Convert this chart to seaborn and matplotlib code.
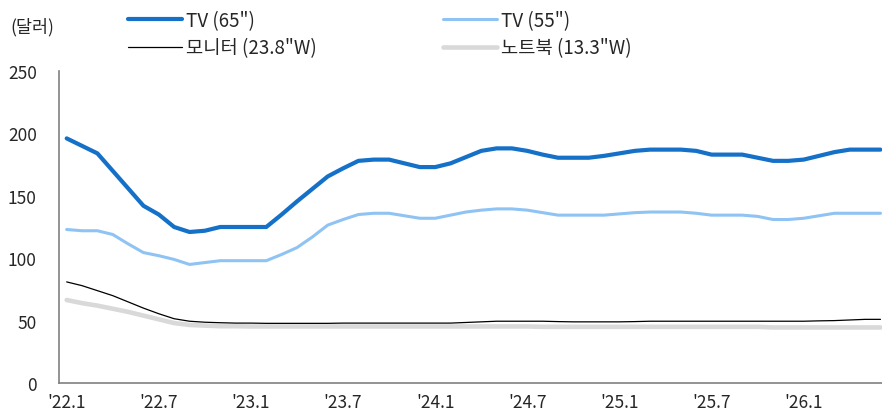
import numpy as np
import pandas as pd
import seaborn as sns
import matplotlib.pyplot as plt
from matplotlib.lines import Line2D

# monthly series, '22.1 .. '26.6
tv65 = [196, 190, 184, 170, 156, 142, 135, 125, 121, 122, 125, 125, 125, 125,
        135, 145.5, 155.5, 165.5, 172, 178, 179, 179, 176, 173, 173, 176, 181,
        186, 188, 188, 186, 183, 180.5, 180.5, 180.5, 182, 184, 186, 187, 187, 187, 186,
        183, 183, 183, 180.5, 178, 178, 179, 182, 185, 187, 187, 187]
tv55 = [123, 122, 122, 119, 111.5, 104.5, 102, 99, 95, 96.5, 98, 98, 98, 98,
        103, 108.5, 117, 126.5, 131, 135, 136, 136, 134, 132, 132, 134.5,
        137, 138.5, 139.5, 139.5, 138.5, 136.5, 134.5, 134.5, 134.5, 134.5, 135.5, 136.5,
        137, 137, 137, 136, 134.5, 134.5, 134.5, 133.5, 131, 131, 132, 134, 136, 136,
        136, 136]
monitor = [81, 78, 74, 70, 65, 60, 55.5, 51.5, 49.5, 48.7, 48.3, 48, 48, 47.8, 47.8,
           47.8, 47.8, 47.8, 48, 48, 48, 48, 48, 48, 48, 48, 48.5, 49, 49.5, 49.5, 49.5,
           49.5, 49.2, 49, 49, 49, 49, 49.2, 49.5, 49.5, 49.5, 49.5, 49.5, 49.5, 49.5,
           49.5, 49.5, 49.5, 49.5, 49.8, 50, 50.5, 51, 51]
laptop = [66.5, 64, 62, 59.5, 57, 54, 51, 48, 46.5, 46, 45.5, 45.5, 45.3, 45.3, 45.3,
          45.3, 45.3, 45.3, 45.3, 45.3, 45.3, 45.3, 45.3, 45.3, 45.3, 45.3, 45.3, 45.3,
          45.3, 45.3, 45.3, 45, 45, 45, 45, 45, 45, 45, 45, 45, 45, 45, 45, 45, 45, 45,
          44.5, 44.5, 44.5, 44.5, 44.5, 44.5, 44.5, 44.5]
tick_labels = ["'22.1", "'22.7", "'23.1", "'23.7", "'24.1", "'24.7", "'25.1", "'25.7", "'26.1"]
series_names = ['TV (65")', 'TV (55")', '모니터 (23.8"W)', '노트북 (13.3"W)']

sns.set_style("white")
plt.rcParams['font.family'] = ['Noto Sans CJK KR', 'DejaVu Sans']
plt.rcParams['font.size'] = 12.5

df = pd.DataFrame({"idx": np.arange(len(tv65)), "tv65": tv65, "tv55": tv55,
                   "monitor": monitor, "laptop": laptop})

fig = plt.figure(figsize=(8.82, 4.14), dpi=100)
ax = fig.add_axes([59 / 882, 1 - 384 / 414, 1 - 59 / 882, (384 - 72) / 414])

styles = {
    "laptop": dict(color="#d9d9d9", lw=3.3),
    "monitor": dict(color="black", lw=0.9),
    "tv55": dict(color="#8fc3f3", lw=2.2),
    "tv65": dict(color="#1570c8", lw=3.0),
}
for col in ["laptop", "monitor", "tv55", "tv65"]:
    sns.lineplot(data=df, x="idx", y=col, ax=ax, **styles[col])

ax.set_xlim(-0.5, 53.1)
ax.set_ylim(0, 250)
ax.set_yticks(range(0, 251, 50))
ax.set_xlabel("")
ax.set_ylabel("")

pos = np.arange(len(tick_labels)) * 6
ax.set_xticks(pos - 0.5)
ax.set_xticklabels([])
ax.set_xticks(pos, minor=True)
ax.set_xticklabels(tick_labels, minor=True)
ax.tick_params(axis="x", which="major", direction="out", length=5, width=1, color="#808080")
ax.tick_params(axis="x", which="minor", length=0, pad=7, labelsize=12.5)
ax.tick_params(axis="y", direction="out", length=5, width=1, color="#808080", pad=11,
               labelsize=12.5)

for s in ["top", "right"]:
    ax.spines[s].set_visible(False)
for s in ["left", "bottom"]:
    ax.spines[s].set_color("#808080")
    ax.spines[s].set_linewidth(1.2)

handles = [Line2D([], [], **styles["tv65"]), Line2D([], [], **styles["monitor"]),
           Line2D([], [], **styles["tv55"]), Line2D([], [], **styles["laptop"])]
labels = [series_names[0], series_names[2], series_names[1], series_names[3]]
fig.legend(handles, labels, ncol=2, loc="upper left", bbox_to_anchor=(128 / 882, 1 - 11 / 414),
           frameon=False, borderpad=0, borderaxespad=0, handlelength=2.9, handletextpad=0.2,
           columnspacing=6.7, labelspacing=0.35, fontsize=13.5)

fig.text(10 / 882, 1 - 27 / 414, "(달러)", va="center", ha="left", fontsize=12.5)

fig.savefig("out.png", dpi=100)
